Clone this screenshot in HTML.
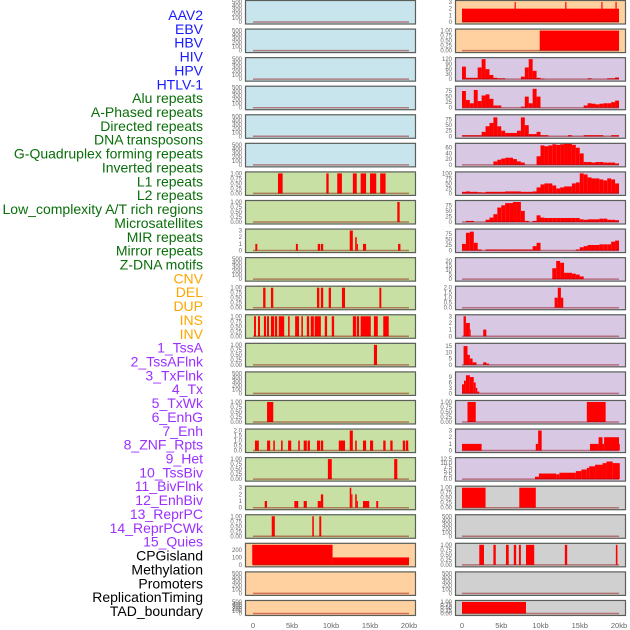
<!DOCTYPE html>
<html><head><meta charset="utf-8"><style>
html,body{margin:0;padding:0;background:#fff;width:630px;height:630px;overflow:hidden}
svg{display:block;font-family:"Liberation Sans",sans-serif}
</style></head><body>
<svg id="chart" width="630" height="630" viewBox="0 0 630 630" xmlns="http://www.w3.org/2000/svg"></svg>
<script>
const labels=["AAV2","EBV","HBV","HIV","HPV","HTLV-1","Alu repeats","A-Phased repeats","Directed repeats","DNA transposons","G-Quadruplex forming repeats","Inverted repeats","L1 repeats","L2 repeats","Low_complexity A/T rich regions","Microsatellites","MIR repeats","Mirror repeats","Z-DNA motifs","CNV","DEL","DUP","INS","INV","1_TssA","2_TssAFlnk","3_TxFlnk","4_Tx","5_TxWk","6_EnhG","7_Enh","8_ZNF_Rpts","9_Het","10_TssBiv","11_BivFlnk","12_EnhBiv","13_ReprPC","14_ReprPCWk","15_Quies","CPGisland","Methylation","Promoters","ReplicationTiming","TAD_boundary"];
const labelGroups=["virus","virus","virus","virus","virus","virus","repeat","repeat","repeat","repeat","repeat","repeat","repeat","repeat","repeat","repeat","repeat","repeat","repeat","sv","sv","sv","sv","sv","hmm","hmm","hmm","hmm","hmm","hmm","hmm","hmm","hmm","hmm","hmm","hmm","hmm","hmm","hmm","other","other","other","other","other"];
// track y-axis maxima
const yMax=[500,500,500,500,500,500,1,1,3,500,1,1,1,500,1,2,1,3,1,270,500,500,
 3,1,120,90,90,70,100,90,90,22,2,3,16,11,1,3,12.5,1,500,1,500,1];
const yTicks=[
 [0,100,200,300,400,500],[0,100,200,300,400,500],[0,100,200,300,400,500],[0,100,200,300,400,500],[0,100,200,300,400,500],[0,100,200,300,400,500],
 [0,0.25,0.5,0.75,1],[0,0.25,0.5,0.75,1],[0,1,2,3],[0,100,200,300,400,500],[0,0.25,0.5,0.75,1],[0,0.25,0.5,0.75,1],[0,0.25,0.5,0.75,1],[0,100,200,300,400,500],[0,0.25,0.5,0.75,1],[0,0.5,1,1.5,2],[0,0.25,0.5,0.75,1],[0,1,2,3],[0,0.25,0.5,0.75,1],[0,100,200],[0,100,200,300,400,500],[0,100,200,300,400,500],
 [0,1,2,3],[0,0.25,0.5,0.75,1],[0,30,60,90,120],[0,25,50,75],[0,25,50,75],[0,20,40,60],[0,25,50,75,100],[0,25,50,75],[0,25,50,75],[0,5,10,15,20],[0,0.5,1,1.5,2],[0,1,2,3],[0,5,10,15],[0,3,6,9],[0,0.25,0.5,0.75,1],[0,1,2,3],[0,2.5,5,7.5,10,12.5],[0,0.25,0.5,0.75,1],[0,100,200,300,400,500],[0,0.25,0.5,0.75,1],[0,100,200,300,400,500],[0,0.25,0.5,0.75,1]];
const tickDigits=[0,0,0,0,0,0,2,2,0,0,2,2,2,0,2,1,2,0,2,0,0,0, 0,2,0,0,0,0,0,0,0,0,1,0,0,0,2,0,1,2,0,2,0,2];
// binned histogram values (0.5 kb bins, 0-20 kb)
const bins={
24:[75,8,8,8,70,120,60,25,8,5,5,0,0,0,0,15,70,120,50,8,3,0,0,0,0,0,0,0,0,0,0,0,5,0,0,0,0,5,5,10],
25:[75,35,20,80,30,55,60,40,10,10,0,0,0,0,0,5,50,20,85,50,0,0,0,0,0,0,0,0,0,0,0,10,20,18,15,18,20,20,25,32],
26:[5,5,5,5,5,20,45,60,85,45,25,15,15,15,25,85,50,10,10,20,5,5,0,0,0,0,0,5,0,0,0,5,5,5,5,5,0,0,5,5],
27:[0,0,0,0,0,0,0,0,12,18,22,25,25,20,12,8,0,0,0,30,68,65,68,72,70,72,75,75,70,60,40,10,10,8,10,10,8,8,8,5],
28:[8,10,8,8,6,5,8,8,8,8,8,10,10,10,10,8,8,8,10,30,45,50,50,40,25,30,35,35,50,55,100,95,80,75,75,70,65,75,70,50],
29:[0,5,5,0,0,0,10,20,35,65,75,85,85,90,90,50,5,0,5,30,20,18,18,18,18,18,18,18,18,18,12,10,12,12,12,15,15,10,10,8],
30:[30,80,85,35,5,0,5,5,5,5,5,5,5,5,5,5,5,5,20,35,0,0,0,0,0,0,0,0,0,5,15,20,25,25,25,28,28,28,40,45],
31:[0,0,0,0,0,0,0,0,0,0,0,0,0,0,0,0,0,0,0,0,0,0,0,12,20,18,7,7,6,5,3,0,0,0,0,0,0,0,0,0]
};
// interval tracks: [startKb, endKb, value]
const segs={
6:[[3.2,3.8,1],[9.4,9.7,1],[10.8,11.4,1],[12.8,13.3,1],[13.8,14.5,1],[15,15.8,1],[16.3,17,1]],
7:[[18.5,18.8,1]],
8:[[0.3,0.55,1],[5.5,5.75,1],[8.3,8.6,1],[8.7,9,1],[12.4,12.8,3],[13.1,13.3,2],[13.3,13.45,1],[14.1,14.5,1],[18.6,18.9,1]],
10:[[1.3,1.6,1],[2.3,2.6,1],[8.2,8.5,1],[8.7,9,1],[9.7,10,1],[11.4,11.8,1],[16.2,16.45,1]],
11:[[0.13,0.38,1],[0.64,0.9,1],[1.4,1.67,1],[1.8,2.05,1],[2.3,2.7,1],[2.8,3.1,1],[3.3,4,1],[4.5,4.7,1],[5.4,5.9,1],[6.2,6.4,1],[6.9,7.2,1],[7.4,7.8,1],[7.9,8.7,1],[9.2,9.5,1],[10.1,10.4,1],[12.8,13.2,1],[13.3,13.6,1],[13.8,15.1,1],[15.5,16,1],[16.7,17.4,1]],
12:[[15.5,15.9,1]],
14:[[1.8,2.6,1]],
15:[[0.25,0.75,1],[1.8,2.2,1],[2.6,2.8,1],[3.6,3.8,1],[4.5,4.9,1],[5.8,6,1],[6.5,6.9,1],[7,7.3,1],[8.2,8.6,1],[8.7,9,1],[11,11.8,1],[12.4,12.8,2],[13.1,13.3,1],[14.1,14.5,1],[15,15.4,1],[16.7,17,1],[17.6,17.9,1],[19.2,19.5,1],[19.6,19.9,1]],
16:[[9.6,10.1,1],[18.1,18.5,1]],
17:[[1.5,1.8,1],[5.3,5.8,1],[6.5,6.9,1],[8.3,8.7,1],[8.7,9,2],[12.4,12.6,3],[12.6,12.75,2],[13.1,13.3,2],[13.3,13.45,1],[14.1,14.9,1],[15.8,16.05,1]],
18:[[2.4,2.8,1],[7.6,7.8,1],[8.5,8.75,1]],
19:[[-0.1,10.2,270],[10.2,20,100]],
22:[[0,20,2],[6.7,6.85,3],[13.15,13.3,3],[17.75,17.9,3],[19.55,19.7,3]],
23:[[9.9,20,1]],
32:[[11.8,12.2,1],[12.2,12.6,2],[12.6,12.9,1]],
33:[[0.2,0.5,3],[0.5,1,2],[1,1.1,1],[2.7,3.1,1]],
34:[[0.2,0.7,15],[0.7,1,8],[1,1.35,5],[1.35,1.85,2],[2.7,3.1,2],[3.1,3.45,1]],
35:[[0,0.25,5],[0.25,0.5,7],[0.5,1,10],[1,1.5,9],[1.5,1.75,6],[1.75,1.95,3],[1.95,2.2,1]],
36:[[0.7,1.75,1],[15.9,18.3,1]],
37:[[0,2.5,1],[9.4,9.7,1],[9.7,10.15,3],[16.3,17.4,1],[17.4,17.9,2],[17.9,18.1,1],[18.1,20,2],[20,20.1,1]],
38:[[9.3,9.8,1.5],[9.8,12,3.5],[12,12.4,3],[12.4,14.5,4],[14.5,15.2,5],[15.2,15.9,6],[15.9,16.2,7],[16.2,16.95,8],[16.95,17.9,9],[17.9,18.4,10],[18.4,19.2,11],[19.2,20.1,10]],
39:[[0,3,1],[7.3,9.4,1]],
41:[[2.2,2.8,1],[4,4.3,1],[5.6,5.95,1],[6.6,6.9,1],[7.25,7.5,1],[8.15,9.2,1],[13.1,13.4,1],[19.6,19.8,1]],
43:[[0,8.15,1]]
};
const xTickVals=[0,5,10,15,20];
const xTickLabels=["0","5kb","10kb","15kb","20kb"];

const svg=document.getElementById('chart');
const NS="http://www.w3.org/2000/svg";
function mk(tag,attrs,parent){const e=document.createElementNS(NS,tag);for(const k in attrs)e.setAttribute(k,attrs[k]);(parent||svg).appendChild(e);return e;}
const groupColor={virus:"#1a1aff",repeat:"#0a6e0a",sv:"#ffa500",hmm:"#9b30ff",other:"#000"};
// legend labels
labels.forEach((t,i)=>{
  const e=mk('text',{x:203,y:20+i*13.86,'text-anchor':'end','font-size':14,fill:groupColor[labelGroups[i]]});
  e.textContent=t;
  
  
});
function bgColor(i){
  if(i<6)return "#c8e4ec";
  if(i<19)return "#c8e0a4";
  if(i<24)return "#ffd0a0";
  if(i<39)return "#d8c8e4";
  return "#d0d0d0";
}
function xScale(col,kb){return col===0?253+kb*7.8:462+kb*7.85;}
for(let i=0;i<44;i++){
  const col=i<22?0:1, r=i%22;
  const top=r*28.57, h=r===21?16:24.5;
  const px0=col===0?245:455, pw=171;
  const g=mk('g',{});
  
  
  mk('rect',{x:px0,y:top,width:pw,height:h,fill:bgColor(i)},g);
  const pt=top+2, pb=top+h-2.5;
  const yS=v=>pb-v/yMax[i]*(pb-pt);
  const drawBar=(a,b,v)=>{
    if(v<=0)return;
    const x1=xScale(col,a),x2=xScale(col,b);
    const bar=mk('rect',{x:x1,y:yS(v),width:Math.max(x2-x1,0.8),height:pb-yS(v),fill:"#ff0000"},g);
    
    
  };
  if(bins[i])bins[i].forEach((v,k)=>drawBar(k*0.5,k*0.5+0.5,v));
  if(segs[i])segs[i].forEach(s=>drawBar(s[0],s[1],s[2]));
  // baseline
  mk('line',{x1:xScale(col,0),x2:xScale(col,20),y1:pb,y2:pb,stroke:"rgba(140,0,0,0.45)","stroke-width":1.5},g);
  mk('rect',{x:px0+0.5,y:top+0.5,width:pw-1,height:h-1,fill:"none",stroke:"#5a5f5a","stroke-width":1.2},g);
  yTicks[i].forEach(t=>{
    const tx=mk('text',{x:px0-3,y:yS(t)+2,'text-anchor':'end','font-size':6,fill:"#666"},g);
    tx.textContent=t.toFixed(tickDigits[i]);
    
    
  });
}
[0,1].forEach(col=>{
  xTickVals.forEach((v,k)=>{
    const tx=mk('text',{x:xScale(col,v),y:628,'text-anchor':'middle','font-size':7.5,fill:"#666"});
    tx.textContent=xTickLabels[k];
    
    
  });
});
</script>
</body></html>
